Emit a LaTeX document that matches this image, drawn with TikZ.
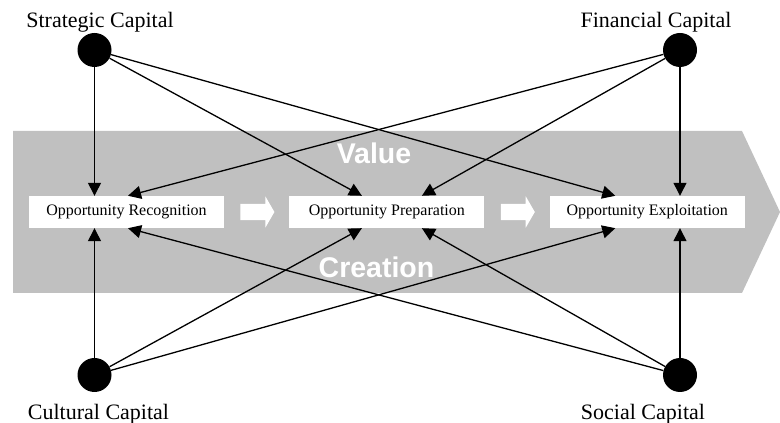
\documentclass[tikz,border=0pt]{standalone}
\usepackage{fontspec}
\setmainfont{Liberation Serif}
\newfontfamily\bandfont{Liberation Sans}
\usepackage{xcolor}
\usepackage{tikz}
\usetikzlibrary{arrows.meta,positioning,shapes.arrows}

\definecolor{bandgray}{RGB}{192,192,192}

\begin{document}
\begin{tikzpicture}[x=1pt, y=1pt,
    every node/.style={font=\fontsize{22}{24}\selectfont},
    capital/.style={circle, fill=black, minimum size=34pt, inner sep=0pt},
    caplabel/.style={inner sep=0pt},
    phase/.style={fill=white, minimum width=195pt, minimum height=32pt, inner sep=0pt, font=\fontsize{16}{18}\selectfont},
    stepper/.style={single arrow, fill=white, inner xsep=0pt, inner ysep=8pt, minimum height=34pt,
        single arrow head extend=7.5pt, single arrow tip angle=120},
    bandword/.style={text=white, font=\bandfont\bfseries\fontsize{28.5}{30}\selectfont, anchor=base},
    link/.style={line width=1.3pt, -{Triangle[length=13pt,width=13pt]}}]

\useasboundingbox (0,0) rectangle (780,423);

\fill[bandgray] (13,292) -- (742,292) -- (780,211) -- (742,130) -- (13,130) -- cycle;

\node[bandword] (value) at (374,259) {Value};
\node[bandword] (creation) at (376.5,145) {Creation};

\node[phase] (rec) at (126.5,211) {Opportunity Recognition};
\node[phase, right=65pt of rec] (prep) {Opportunity Preparation};
\node[phase, right=65pt of prep] (exp) {Opportunity Exploitation};

\node[stepper, right=16pt of rec] (step1) {};
\node[stepper, right=16pt of prep] (step2) {};

\node[capital] (strat) at (94.5,373) {};
\node[capital] (fin) at (680,373) {};
\node[capital] (cult) at (94.5,48) {};
\node[capital] (soc) at (680,48) {};

\node[caplabel, above=0pt of strat, xshift=5.5pt] (stratlab) {Strategic Capital};
\node[caplabel, above=0pt of fin, xshift=-24pt] (finlab) {Financial Capital};
\node[caplabel, below=12pt of cult, xshift=4pt] (cultlab) {Cultural Capital};
\node[caplabel, below=12pt of soc, xshift=-37pt] (soclab) {Social Capital};

\draw[link] (strat) -- (rec.north -| strat);
\draw[link] (strat) -- ([xshift=-25pt]prep.north);
\draw[link] (strat) -- ([xshift=-32pt]exp.north);

\draw[link] (fin) -- ([xshift=1.5pt]rec.north);
\draw[link] (fin) -- ([xshift=35pt]prep.north);
\draw[link] (fin) -- (exp.north -| fin);

\draw[link] (cult) -- (rec.south -| cult);
\draw[link] (cult) -- ([xshift=-25pt]prep.south);
\draw[link] (cult) -- ([xshift=-32pt]exp.south);

\draw[link] (soc) -- ([xshift=1.5pt]rec.south);
\draw[link] (soc) -- ([xshift=35pt]prep.south);
\draw[link] (soc) -- (exp.south -| soc);
\end{tikzpicture}
\end{document}
